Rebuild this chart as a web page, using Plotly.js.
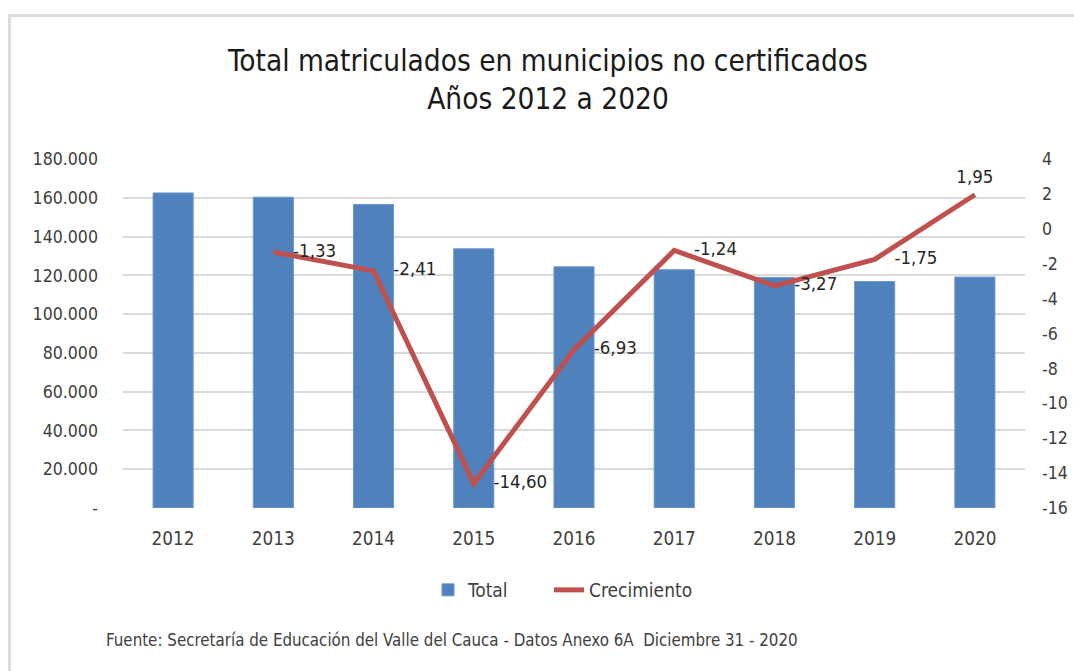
<!DOCTYPE html>
<html>
<head>
<meta charset="utf-8">
<script src="https://cdn.plot.ly/plotly-3.0.1.min.js"></script>
<style>
html,body{margin:0;padding:0;background:#fff;}
#chart{width:1074px;height:671px;}
#frame{position:absolute;left:8px;top:14px;width:1066px;height:657px;border-left:3px solid #dcdcdc;border-top:3px solid #dcdcdc;pointer-events:none;}
</style>
</head>
<body>
<div id="chart"></div>
<div id="frame"></div>
<script>
const years = ['2012','2013','2014','2015','2016','2017','2018','2019','2020'];
const total = [162500, 160300, 156500, 133700, 124400, 122900, 118900, 116800, 119100];
const crecimiento = [null, -1.33, -2.41, -14.60, -6.93, -1.24, -3.27, -1.75, 1.95];
const leftTickVals = [0, 20000, 40000, 60000, 80000, 100000, 120000, 140000, 160000, 180000];
const leftTickText = ['-', '20.000', '40.000', '60.000', '80.000', '100.000', '120.000', '140.000', '160.000', '180.000'];
const rightTickVals = [-16, -14, -12, -10, -8, -6, -4, -2, 0, 2, 4];
const rightTickText = ['-16', '-14', '-12', '-10', '-8', '-6', '-4', '-2', '0', '2', '4'];
const labelPos = ['middle right','middle right','middle right','middle right','middle right','middle right','middle right','middle right','top center'];
const labelPad = [30, 30, 30, 30, 30, 30, 30, 30, 10];

const FONT = '"DejaVu Sans Condensed", "Liberation Sans", sans-serif';
const crecLabels = crecimiento.map(v => v === null ? '' : v.toFixed(2).replace('.', ','));

const traces = [
  {
    type: 'bar', name: 'Total', x: years, y: total, legend: 'legend',
    marker: {color: '#4F81BD', line: {color: '#6d97cc', width: 1}},
    hoverinfo: 'x+y'
  },
  {
    type: 'scatter', mode: 'lines+markers+text', name: 'Crecimiento', x: years, y: crecimiento,
    yaxis: 'y2', legend: 'legend2', line: {color: '#C0504D', width: 5},
    marker: {size: labelPad, color: 'rgba(0,0,0,0)', line: {width: 0}},
    text: crecLabels, textposition: labelPos,
    textfont: {family: FONT, size: 18.5, color: '#262626'},
    cliponaxis: false
  }
];

const legendFont = {family: FONT, size: 19, color: '#404040'};

const layout = {
  width: 1074, height: 671,
  margin: {l: 123, r: 49, t: 159, b: 163},
  paper_bgcolor: '#ffffff', plot_bgcolor: '#ffffff',
  separators: ',.',
  font: {family: FONT, color: '#404040'},
  title: {
    text: 'Total matriculados en municipios no certificados<br>Años 2012 a 2020',
    font: {family: FONT, size: 29.5, color: '#1a1a1a'},
    x: 548/1074, xref: 'container', xanchor: 'center',
    y: 1 - 71/671, yref: 'container', yanchor: 'top'
  },
  bargap: 0.6,
  xaxis: {
    type: 'category', range: [-0.5, 8.5], showgrid: false, showline: false, zeroline: false, automargin: false,
    ticks: '', tickfont: {family: FONT, size: 18.8, color: '#404040'}, ticklabelstandoff: 17
  },
  yaxis: {
    range: [0, 180000], tickvals: leftTickVals, ticktext: leftTickText, automargin: false,
    showgrid: true, gridcolor: '#d9d9d9', gridwidth: 2, zeroline: false,
    showline: false, ticks: '', tickfont: {family: FONT, size: 17.6, color: '#404040'},
    ticklabelstandoff: 24
  },
  yaxis2: {
    overlaying: 'y', side: 'right', range: [-16, 4], tickvals: rightTickVals, ticktext: rightTickText,
    showgrid: false, zeroline: false, showline: false, ticks: '', automargin: false,
    tickfont: {family: FONT, size: 17.6, color: '#404040'}, ticklabelstandoff: 16
  },
  showlegend: true,
  legend: {
    orientation: 'h', x: (428-123)/902, xanchor: 'left', y: (508-590)/349, yanchor: 'middle',
    font: legendFont
  },
  legend2: {
    orientation: 'h', x: (549-123)/902, xanchor: 'left', y: (508-590)/349, yanchor: 'middle',
    font: legendFont
  },
  annotations: [{
    text: 'Fuente: Secretaría de Educación del Valle del Cauca - Datos Anexo 6A  Diciembre 31 - 2020',
    xref: 'paper', yref: 'paper', x: (104-123)/902, y: (508-640)/349,
    xanchor: 'left', yanchor: 'middle', showarrow: false,
    font: {family: FONT, size: 16.8, color: '#404040'}
  }]
};

Plotly.newPlot('chart', traces, layout, {displayModeBar: false, staticPlot: true});
</script>
</body>
</html>
